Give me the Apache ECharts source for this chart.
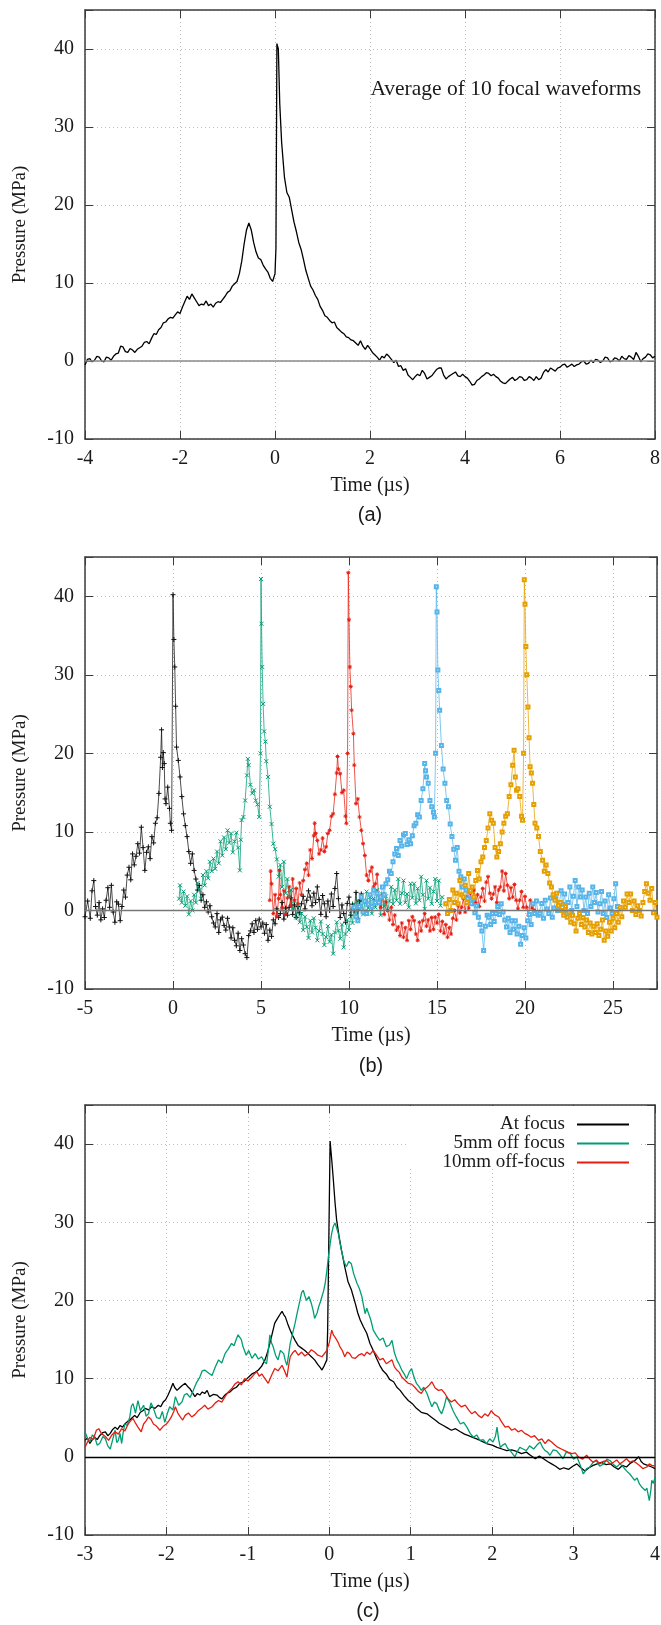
<!DOCTYPE html>
<html>
<head>
<meta charset="utf-8">
<title>Focal pressure waveforms</title>
<script src="https://cdn.jsdelivr.net/npm/echarts@6/dist/echarts.min.js"></script>
<style>
  html, body { margin: 0; padding: 0; background: #fff; }
  #chart { width: 661px; height: 1625px; }
</style>
</head>
<body>
<div id="chart"></div>
<script>
// tick labels
const pressureTicks = [-10, 0, 10, 20, 30, 40];
const aTimeTicks = [-4, -2, 0, 2, 4, 6, 8];
const bTimeTicks = [-5, 0, 5, 10, 15, 20, 25];
const cTimeTicks = [-3, -2, -1, 0, 1, 2, 3, 4];

// (a) average of 10 focal waveforms, [time us, pressure MPa]
const aAverage = [
  [-4.0, -0.5], [-3.95, 0.2], [-3.9, 0.3], [-3.85, -0.1], [-3.8, 0.1], [-3.75, 0.6], [-3.7, 0.5], [-3.65, 0.0],
  [-3.6, -0.1], [-3.55, 0.5], [-3.5, 0.4], [-3.45, 0.1], [-3.4, 0.6], [-3.35, 0.9], [-3.3, 1.0], [-3.25, 1.9],
  [-3.2, 1.8], [-3.15, 1.2], [-3.1, 1.1], [-3.05, 1.6], [-3.0, 1.4], [-2.95, 1.1], [-2.9, 1.5], [-2.85, 1.7],
  [-2.8, 1.9], [-2.75, 2.4], [-2.7, 2.5], [-2.65, 2.2], [-2.6, 2.9], [-2.55, 3.5], [-2.5, 3.4], [-2.45, 4.0],
  [-2.4, 4.3], [-2.35, 4.9], [-2.3, 5.0], [-2.25, 5.4], [-2.2, 5.6], [-2.15, 5.5], [-2.1, 5.9], [-2.05, 6.3],
  [-2.0, 6.1], [-1.95, 6.9], [-1.9, 7.6], [-1.85, 8.3], [-1.8, 7.9], [-1.75, 8.6], [-1.7, 8.1], [-1.65, 7.6],
  [-1.6, 7.1], [-1.55, 7.3], [-1.5, 7.2], [-1.45, 7.7], [-1.4, 7.1], [-1.35, 7.3], [-1.3, 6.9], [-1.25, 7.4],
  [-1.2, 7.6], [-1.15, 7.5], [-1.1, 7.9], [-1.05, 8.3], [-1.0, 8.8], [-0.95, 9.0], [-0.9, 9.6], [-0.85, 9.9],
  [-0.8, 10.2], [-0.75, 11.2], [-0.7, 12.8], [-0.65, 15.0], [-0.6, 16.8], [-0.55, 17.7], [-0.5, 16.8], [-0.45, 15.2],
  [-0.4, 14.0], [-0.35, 13.2], [-0.3, 13.0], [-0.25, 12.3], [-0.2, 11.8], [-0.15, 11.4], [-0.1, 10.6], [-0.05, 10.2],
  [0.0, 11.2], [0.02, 14.5], [0.04, 40.7], [0.07, 40.0], [0.1, 33.0], [0.14, 28.0], [0.2, 23.5], [0.25, 21.6],
  [0.3, 21.0], [0.35, 19.4], [0.4, 17.8], [0.45, 16.6], [0.5, 15.2], [0.55, 14.3], [0.6, 13.0], [0.65, 11.6],
  [0.7, 10.6], [0.75, 9.6], [0.8, 9.1], [0.85, 8.4], [0.9, 7.9], [0.95, 7.0], [1.0, 6.5], [1.05, 5.8],
  [1.1, 5.6], [1.15, 5.2], [1.2, 4.9], [1.25, 5.0], [1.3, 4.3], [1.35, 4.0], [1.4, 3.7], [1.45, 3.5],
  [1.5, 3.1], [1.55, 3.0], [1.6, 2.7], [1.65, 2.6], [1.7, 2.3], [1.75, 2.0], [1.8, 2.6], [1.85, 1.9],
  [1.9, 1.5], [1.95, 2.0], [2.0, 1.6], [2.05, 1.1], [2.1, 0.8], [2.15, 0.5], [2.2, 0.1], [2.25, 0.6],
  [2.3, 0.4], [2.35, 0.9], [2.4, 0.6], [2.45, 0.2], [2.5, -0.2], [2.55, 0.1], [2.6, -0.7], [2.65, -0.6],
  [2.7, -1.2], [2.75, -1.0], [2.8, -1.8], [2.85, -2.1], [2.9, -2.4], [2.95, -2.0], [3.0, -1.7], [3.05, -1.9],
  [3.1, -1.2], [3.15, -1.6], [3.2, -2.3], [3.25, -2.1], [3.3, -1.9], [3.35, -1.5], [3.4, -1.1], [3.45, -0.9],
  [3.5, -0.9], [3.55, -1.8], [3.6, -2.3], [3.65, -2.0], [3.7, -1.8], [3.75, -1.6], [3.8, -1.4], [3.85, -1.9],
  [3.9, -2.0], [3.95, -1.7], [4.0, -2.0], [4.05, -2.2], [4.1, -2.6], [4.15, -3.1], [4.2, -3.0], [4.25, -2.5],
  [4.3, -2.3], [4.35, -2.0], [4.4, -1.8], [4.45, -1.5], [4.5, -1.6], [4.55, -1.9], [4.6, -1.7], [4.65, -2.0],
  [4.7, -2.2], [4.75, -2.6], [4.8, -2.8], [4.85, -2.9], [4.9, -2.6], [4.95, -2.3], [5.0, -2.1], [5.05, -2.5],
  [5.1, -2.3], [5.15, -2.0], [5.2, -2.1], [5.25, -2.5], [5.3, -2.4], [5.35, -2.0], [5.4, -2.2], [5.45, -2.5],
  [5.5, -2.0], [5.55, -2.4], [5.6, -2.2], [5.65, -1.5], [5.7, -1.1], [5.75, -1.4], [5.8, -0.9], [5.85, -1.1],
  [5.9, -1.3], [5.95, -0.9], [6.0, -0.8], [6.05, -0.5], [6.1, -0.4], [6.15, -0.8], [6.2, -0.6], [6.25, -0.4],
  [6.3, -0.7], [6.35, -0.5], [6.4, -0.4], [6.45, -0.1], [6.5, 0.0], [6.55, -0.4], [6.6, -0.3], [6.65, 0.1],
  [6.7, -0.2], [6.75, 0.2], [6.8, 0.1], [6.85, -0.2], [6.9, 0.0], [6.95, 0.5], [7.0, 0.4], [7.05, -0.1],
  [7.1, 0.0], [7.15, 0.4], [7.2, 0.3], [7.25, 0.0], [7.3, 0.6], [7.35, 0.3], [7.4, 0.2], [7.45, 0.7],
  [7.5, 0.5], [7.55, 0.2], [7.6, 1.1], [7.65, 0.6], [7.7, -0.1], [7.75, 0.3], [7.8, 0.5], [7.85, 0.9],
  [7.9, 0.8], [7.95, 0.4], [8.0, 0.6]
];

// (b) five successive waveforms
const bWave1 = [
  [-5.0, -0.8], [-4.85, 1.2], [-4.7, -1.0], [-4.6, 2.5], [-4.5, 3.8], [-4.4, 0.5], [-4.3, -0.6], [-4.2, 1.0],
  [-4.1, -1.2], [-4.0, 0.2], [-3.9, -0.9], [-3.8, 1.3], [-3.7, 2.9], [-3.6, 0.4], [-3.5, 3.2], [-3.4, -0.2],
  [-3.3, -1.5], [-3.2, 1.1], [-3.1, 0.8], [-3.0, -1.3], [-2.9, 0.5], [-2.8, 2.6], [-2.7, 1.7], [-2.6, 4.5],
  [-2.5, 5.5], [-2.4, 3.9], [-2.3, 7.2], [-2.2, 5.8], [-2.1, 6.9], [-2.0, 8.5], [-1.9, 7.3], [-1.8, 10.6],
  [-1.7, 8.0], [-1.6, 5.1], [-1.5, 7.4], [-1.4, 8.1], [-1.3, 6.6], [-1.2, 9.4], [-1.1, 8.6], [-1.0, 11.1],
  [-0.9, 11.8], [-0.8, 14.9], [-0.7, 19.5], [-0.65, 23.0], [-0.6, 18.2], [-0.55, 20.1], [-0.5, 18.7], [-0.45, 14.2],
  [-0.4, 13.6], [-0.3, 15.7], [-0.2, 13.0], [-0.15, 11.1], [-0.08, 10.2], [0.0, 40.2], [0.05, 34.5], [0.1, 31.0],
  [0.15, 26.0], [0.2, 20.8], [0.3, 19.1], [0.4, 17.0], [0.5, 14.5], [0.6, 12.3], [0.7, 10.8], [0.8, 9.4],
  [0.9, 7.5], [1.0, 6.0], [1.1, 7.2], [1.2, 5.1], [1.3, 4.0], [1.4, 2.6], [1.5, 3.2], [1.6, 1.3],
  [1.7, 2.0], [1.8, 0.4], [1.9, 1.1], [2.0, -0.2], [2.1, 0.6], [2.2, -0.8], [2.3, -1.6], [2.4, -2.1],
  [2.5, -0.4], [2.6, -2.8], [2.7, -1.2], [2.8, -0.85], [2.9, -1.9], [3.0, -2.5], [3.1, -1.0], [3.2, -2.1],
  [3.3, -3.5], [3.4, -2.2], [3.5, -3.8], [3.6, -4.5], [3.7, -2.9], [3.8, -5.1], [3.9, -3.6], [4.0, -4.4],
  [4.1, -5.5], [4.2, -6.0], [4.3, -3.2], [4.4, -2.6], [4.5, -1.7], [4.6, -2.8], [4.7, -1.3], [4.8, -2.4],
  [4.9, -1.1], [5.0, -2.1], [5.1, -1.6], [5.2, -2.9], [5.3, -1.8], [5.4, -3.8], [5.5, -2.5], [5.6, -3.3],
  [5.7, -1.2], [5.8, -1.7], [5.9, 0.2], [6.0, -0.9], [6.1, -0.4], [6.2, 1.0], [6.3, -1.1], [6.4, 0.3],
  [6.5, -0.6], [6.6, 0.4], [6.7, 1.6], [6.8, -0.5], [6.9, 0.7], [7.0, -0.9], [7.1, 0.5], [7.2, -0.3],
  [7.3, 0.85], [7.4, 1.8], [7.5, 0.2], [7.6, 1.3], [7.7, 2.5], [7.8, 1.7], [7.9, 0.6], [8.0, 2.2],
  [8.1, 1.0], [8.2, 3.0], [8.3, 1.4], [8.4, -0.5], [8.5, 1.9], [8.6, 0.85], [8.7, -0.8], [8.8, 1.2],
  [8.9, 0.0], [9.0, 2.1], [9.1, 0.5], [9.2, 2.8], [9.3, 4.7], [9.4, 1.5], [9.5, -0.9], [9.6, 0.7],
  [9.7, -0.4], [9.8, -1.5], [9.9, 0.9], [10.0, 1.7], [10.1, -0.6], [10.2, 0.8], [10.3, 0.0], [10.4, 2.3],
  [10.5, -1.0], [10.6, 1.2], [10.7, 2.1]
];
const bWave2 = [
  [0.35, 1.5], [0.4, 3.2], [0.5, 1.0], [0.6, 2.4], [0.7, 0.6], [0.8, 1.8], [0.9, -0.5], [1.0, 1.2],
  [1.1, 0.0], [1.2, 2.0], [1.3, 1.0], [1.4, 3.5], [1.5, 2.6], [1.6, 1.5], [1.7, 4.5], [1.8, 3.2],
  [1.9, 5.0], [2.0, 4.1], [2.1, 6.2], [2.2, 5.0], [2.3, 6.6], [2.4, 5.3], [2.5, 7.5], [2.6, 6.0],
  [2.7, 8.8], [2.8, 7.0], [2.9, 9.3], [3.0, 7.8], [3.1, 10.2], [3.2, 8.6], [3.3, 9.8], [3.4, 7.4],
  [3.5, 8.8], [3.6, 9.9], [3.7, 8.0], [3.8, 5.1], [3.85, 9.0], [3.9, 11.5], [4.0, 11.9], [4.1, 14.0],
  [4.2, 17.2], [4.25, 19.3], [4.3, 18.5], [4.4, 16.0], [4.5, 14.9], [4.6, 15.3], [4.7, 14.0], [4.8, 13.5],
  [4.9, 11.9], [4.97, 20.0], [5.0, 42.2], [5.03, 36.5], [5.07, 31.0], [5.12, 26.3], [5.18, 22.8], [5.25, 21.5],
  [5.3, 19.0], [5.4, 17.0], [5.5, 13.2], [5.6, 11.0], [5.7, 8.5], [5.8, 7.8], [5.9, 6.5], [6.0, 4.3],
  [6.1, 5.8], [6.2, 3.0], [6.3, 6.2], [6.4, 2.2], [6.5, 4.0], [6.6, 1.8], [6.7, 2.6], [6.8, 0.2],
  [6.9, 1.2], [7.0, -0.9], [7.1, 0.5], [7.2, -1.5], [7.3, -0.4], [7.4, -2.5], [7.5, -0.8], [7.6, -2.1],
  [7.7, -3.5], [7.8, -1.3], [7.9, -2.8], [8.0, -1.0], [8.1, -2.2], [8.2, -3.8], [8.3, -2.6], [8.4, -1.4],
  [8.5, -3.0], [8.6, -4.4], [8.7, -3.4], [8.8, -2.0], [8.9, -4.0], [9.0, -3.1], [9.1, -5.5], [9.2, -2.8],
  [9.3, -1.5], [9.4, -2.6], [9.5, -3.6], [9.6, -1.8], [9.7, -4.7], [9.8, -3.0], [9.9, -1.2], [10.0, -2.5],
  [10.1, -0.4], [10.2, -1.6], [10.3, 0.8], [10.4, -0.6], [10.5, 1.3], [10.6, 0.2], [10.7, 2.0], [10.8, -0.5],
  [10.9, 1.0], [11.0, 2.4], [11.1, 0.3], [11.2, 1.7], [11.3, -0.4], [11.4, 1.5], [11.5, 0.4], [11.6, 2.6],
  [11.7, 0.9], [11.8, -0.6], [11.9, 2.1], [12.0, 0.5], [12.1, 1.8], [12.2, 0.0], [12.3, 1.2], [12.4, 3.0],
  [12.5, 0.8], [12.6, 2.6], [12.7, 1.3], [12.8, 4.0], [12.9, 0.85], [13.0, 2.2], [13.1, 3.8], [13.2, 1.0],
  [13.3, 2.1], [13.4, 0.4], [13.5, 3.4], [13.6, 1.6], [13.7, 3.4], [13.8, 0.9], [13.9, 2.8], [14.0, 1.3],
  [14.1, 4.3], [14.2, 2.0], [14.3, 0.2], [14.4, 3.8], [14.5, 1.5], [14.6, 2.9], [14.7, 0.85], [14.8, 2.4],
  [14.9, 4.0], [15.0, 1.2], [15.1, 3.8], [15.2, 0.6], [15.3, 1.7]
];
const bWave3 = [
  [5.5, 1.3], [5.55, 5.0], [5.6, 3.4], [5.7, -0.4], [5.8, 2.0], [5.9, -0.8], [6.0, 1.5], [6.05, 5.1],
  [6.1, 2.0], [6.2, 0.4], [6.3, 2.5], [6.4, -0.5], [6.5, 1.6], [6.6, 3.0], [6.7, 0.6], [6.8, 4.0],
  [6.9, 1.3], [7.0, 2.8], [7.1, 0.85], [7.2, 3.5], [7.3, 2.0], [7.4, 3.8], [7.5, 5.2], [7.6, 6.0],
  [7.7, 4.5], [7.8, 7.7], [7.9, 6.6], [8.0, 9.5], [8.05, 11.1], [8.1, 9.8], [8.2, 8.9], [8.3, 7.2],
  [8.4, 7.7], [8.5, 9.2], [8.6, 7.5], [8.7, 8.1], [8.8, 9.8], [8.9, 10.2], [9.0, 12.0], [9.1, 12.3],
  [9.2, 14.8], [9.3, 17.5], [9.35, 19.6], [9.4, 18.0], [9.5, 17.4], [9.6, 15.0], [9.7, 15.3], [9.8, 12.0],
  [9.85, 11.1], [9.92, 20.0], [9.96, 43.0], [10.0, 37.0], [10.05, 31.0], [10.1, 28.5], [10.15, 25.5], [10.25, 22.5],
  [10.3, 18.5], [10.4, 13.6], [10.5, 14.2], [10.6, 11.9], [10.7, 10.2], [10.8, 8.5], [10.9, 7.0], [11.0, 4.5],
  [11.1, 3.8], [11.2, 5.0], [11.3, 5.5], [11.4, 3.0], [11.5, 3.4], [11.6, 4.6], [11.7, 1.2], [11.8, 0.4],
  [11.9, 2.0], [12.0, -0.5], [12.1, 1.1], [12.2, 0.0], [12.3, -1.2], [12.4, 0.4], [12.5, -1.8], [12.6, -0.6],
  [12.7, -2.5], [12.8, -2.1], [12.9, -3.2], [13.0, -1.6], [13.1, -3.4], [13.2, -2.2], [13.3, -3.8], [13.4, -1.3],
  [13.5, -2.4], [13.6, -0.8], [13.7, -1.3], [13.8, -3.0], [13.9, -3.8], [14.0, -1.5], [14.1, -2.6], [14.2, -1.3],
  [14.3, -0.4], [14.4, -2.0], [14.5, -1.2], [14.6, -2.6], [14.7, -0.9], [14.8, -2.4], [14.9, -0.85], [15.0, -1.6],
  [15.1, -0.5], [15.2, -2.6], [15.3, -1.4], [15.4, -2.9], [15.5, -1.8], [15.6, -3.4], [15.7, -2.2], [15.8, -3.0],
  [15.9, -1.0], [16.0, 0.0], [16.1, -1.2], [16.2, 0.6], [16.3, -0.3], [16.4, 0.4], [16.5, 1.5], [16.6, -0.2],
  [16.7, 1.7], [16.8, 0.3], [16.9, 2.2], [17.0, 0.8], [17.1, 2.6], [17.2, 1.0], [17.3, 2.0], [17.4, 0.5],
  [17.5, 1.7], [17.6, 2.8], [17.7, 1.2], [17.8, 3.6], [17.9, 4.3], [18.0, 2.2], [18.1, 1.5], [18.2, 2.1],
  [18.3, 3.0], [18.4, 1.0], [18.5, 2.6], [18.6, 3.0], [18.7, 5.0], [18.8, 2.5], [18.9, 4.7], [19.0, 3.2],
  [19.1, 1.5], [19.2, 2.9], [19.3, 1.7], [19.4, 3.3], [19.5, 1.3], [19.6, 0.2], [19.7, 1.3], [19.8, 2.4],
  [19.9, 0.4], [20.0, 1.8], [20.1, 0.4], [20.2, -0.6], [20.3, 1.3], [20.4, 0.3], [20.55, 0.0]
];
const bWave4 = [
  [10.3, 0.4], [10.4, -0.8], [10.5, -1.3], [10.6, 0.5], [10.7, 1.7], [10.8, -0.2], [10.9, 1.2], [11.0, -0.4],
  [11.1, 0.8], [11.2, 2.0], [11.3, 0.5], [11.4, 2.6], [11.5, 1.0], [11.6, 2.2], [11.7, 1.0], [11.8, 1.7],
  [11.9, 3.0], [12.0, 2.0], [12.1, 3.4], [12.2, 3.9], [12.3, 5.0], [12.4, 4.7], [12.5, 6.2], [12.6, 7.2],
  [12.7, 7.9], [12.8, 7.0], [12.9, 8.9], [13.0, 8.2], [13.1, 9.6], [13.2, 9.8], [13.3, 8.4], [13.4, 9.0],
  [13.5, 8.5], [13.6, 9.5], [13.7, 10.8], [13.8, 11.1], [13.9, 12.2], [14.0, 11.9], [14.1, 14.0], [14.2, 15.5],
  [14.3, 18.7], [14.35, 17.8], [14.4, 17.0], [14.5, 16.2], [14.6, 14.0], [14.7, 13.2], [14.8, 12.5], [14.85, 11.9],
  [14.92, 20.0], [14.96, 41.2], [15.0, 38.0], [15.05, 30.6], [15.1, 28.0], [15.15, 25.5], [15.25, 21.0], [15.35, 18.0],
  [15.45, 16.2], [15.55, 14.0], [15.65, 13.2], [15.75, 11.0], [15.85, 9.4], [15.95, 7.8], [16.05, 6.4], [16.15, 8.0],
  [16.25, 5.0], [16.35, 4.3], [16.45, 3.0], [16.55, 4.0], [16.65, 2.6], [16.75, 1.5], [16.85, 2.4], [16.95, 0.85],
  [17.05, 1.5], [17.15, -0.3], [17.25, 0.6], [17.35, -0.85], [17.45, -1.8], [17.55, -2.6], [17.65, -5.1], [17.75, -2.0],
  [17.85, -0.6], [17.95, -0.85], [18.05, -1.8], [18.15, -0.4], [18.25, -1.4], [18.35, -0.4], [18.45, 0.5], [18.55, -0.5],
  [18.65, 0.85], [18.75, -0.2], [18.85, -1.2], [18.95, -2.1], [19.05, -1.0], [19.15, -2.8], [19.25, -1.3], [19.35, -2.4],
  [19.45, -1.3], [19.55, -3.0], [19.65, -2.0], [19.75, -4.3], [19.85, -3.2], [19.95, -2.2], [20.05, -3.5], [20.15, -1.3],
  [20.25, -0.5], [20.35, -1.8], [20.45, 0.85], [20.55, -0.4], [20.65, 1.2], [20.75, -0.6], [20.85, -0.4], [20.95, 0.9],
  [21.05, -1.0], [21.15, 1.3], [21.25, 0.2], [21.35, -0.4], [21.45, 1.6], [21.55, -0.85], [21.65, 0.3], [21.75, 1.5],
  [21.85, 0.0], [21.95, 0.85], [22.05, 2.5], [22.15, 0.8], [22.25, 2.1], [22.35, -0.4], [22.45, 1.0], [22.55, 3.0],
  [22.65, 0.0], [22.75, 1.8], [22.85, 3.8], [22.95, 0.5], [23.05, 3.0], [23.15, 1.7], [23.25, 2.6], [23.35, 0.0],
  [23.45, 1.7], [23.55, -0.4], [23.65, 2.2], [23.75, 0.5], [23.85, 3.0], [23.95, 1.0], [24.05, 2.3], [24.15, -0.2],
  [24.25, 0.85], [24.35, 2.4], [24.45, -0.4], [24.55, 1.2], [24.65, -0.9], [24.75, 2.0], [24.85, 0.3], [24.95, -0.4],
  [25.05, 1.5], [25.15, 3.4], [25.25, 0.5]
];
const bWave5 = [
  [15.5, 0.85], [15.6, -0.4], [15.7, 1.4], [15.8, 0.0], [15.9, 2.6], [16.0, 1.0], [16.1, 2.2], [16.2, 0.85],
  [16.3, 3.8], [16.4, 2.0], [16.5, 1.7], [16.6, 3.2], [16.7, 1.0], [16.8, 4.7], [16.9, 2.5], [17.0, 3.0],
  [17.1, 1.7], [17.2, 3.8], [17.3, 5.1], [17.4, 4.0], [17.5, 6.2], [17.6, 6.8], [17.7, 8.0], [17.8, 8.9],
  [17.9, 10.5], [18.0, 12.3], [18.1, 11.5], [18.2, 11.1], [18.3, 8.0], [18.4, 6.8], [18.5, 7.5], [18.6, 8.5],
  [18.7, 10.0], [18.8, 11.1], [18.9, 12.0], [19.0, 12.3], [19.1, 14.5], [19.2, 16.0], [19.3, 18.5], [19.38, 20.4],
  [19.45, 17.0], [19.52, 15.3], [19.6, 15.5], [19.7, 14.5], [19.8, 12.0], [19.86, 11.5], [19.92, 20.0], [19.96, 42.1],
  [20.0, 39.0], [20.05, 33.6], [20.1, 30.0], [20.17, 25.9], [20.23, 22.0], [20.29, 18.3], [20.36, 17.5], [20.43, 16.2],
  [20.5, 13.5], [20.57, 11.1], [20.67, 10.5], [20.77, 9.4], [20.87, 7.5], [21.0, 6.4], [21.1, 5.0], [21.2, 5.8],
  [21.3, 4.7], [21.4, 3.5], [21.5, 3.0], [21.6, 2.0], [21.7, 1.3], [21.8, 2.2], [21.9, 0.6], [22.0, 1.0],
  [22.1, 0.0], [22.2, -0.6], [22.3, 0.5], [22.4, -0.85], [22.5, -0.2], [22.6, -1.5], [22.7, -0.6], [22.8, -1.7],
  [22.9, -2.6], [23.0, -1.0], [23.1, -0.4], [23.2, -1.8], [23.3, -0.9], [23.4, -2.1], [23.5, -1.2], [23.6, -2.8],
  [23.7, -1.6], [23.8, -3.0], [23.9, -2.0], [24.0, -2.8], [24.1, -1.7], [24.2, -3.2], [24.3, -2.4], [24.4, -1.2],
  [24.5, -3.8], [24.6, -2.6], [24.7, -3.3], [24.8, -1.5], [24.9, -2.6], [25.0, -1.0], [25.1, -2.2], [25.2, -0.4],
  [25.3, -1.5], [25.4, 0.4], [25.5, -0.8], [25.6, 1.2], [25.7, 0.4], [25.8, 2.1], [25.9, 1.0], [26.0, 2.1],
  [26.1, 0.0], [26.2, 1.2], [26.3, -0.5], [26.4, 0.6], [26.5, 0.0], [26.6, -0.7], [26.7, 1.0], [26.8, 2.4],
  [26.9, 3.4], [27.0, 2.2], [27.1, 1.3], [27.2, 2.8], [27.3, -0.3], [27.4, 1.0], [27.5, -0.85]
];

// (c) focus comparison
const cNames = ['At focus', '5mm off focus', '10mm off-focus'];
const cAtFocus = [
  [-3.0, 2.1], [-2.97, 2.4], [-2.94, 1.7], [-2.91, 2.2], [-2.88, 2.5], [-2.85, 2.2], [-2.82, 2.7], [-2.78, 3.1],
  [-2.75, 3.2], [-2.72, 2.7], [-2.69, 3.0], [-2.66, 3.5], [-2.63, 3.8], [-2.6, 3.5], [-2.57, 4.0], [-2.54, 3.8],
  [-2.51, 4.2], [-2.48, 4.5], [-2.45, 4.7], [-2.42, 5.0], [-2.39, 5.3], [-2.36, 5.0], [-2.32, 5.7], [-2.29, 5.9],
  [-2.26, 6.2], [-2.22, 6.0], [-2.18, 6.4], [-2.14, 6.2], [-2.1, 6.6], [-2.07, 6.4], [-2.04, 7.0], [-2.01, 7.3],
  [-1.98, 7.9], [-1.95, 8.6], [-1.92, 9.4], [-1.9, 8.9], [-1.87, 8.5], [-1.84, 8.8], [-1.81, 9.1], [-1.79, 9.3],
  [-1.77, 9.4], [-1.74, 9.0], [-1.71, 8.7], [-1.68, 8.2], [-1.65, 7.7], [-1.62, 8.1], [-1.59, 7.9], [-1.56, 8.3],
  [-1.53, 8.1], [-1.5, 8.5], [-1.47, 7.7], [-1.42, 8.0], [-1.38, 7.9], [-1.35, 7.6], [-1.32, 7.4], [-1.29, 7.8],
  [-1.26, 8.1], [-1.22, 8.3], [-1.18, 8.7], [-1.14, 8.9], [-1.1, 9.4], [-1.05, 9.6], [-1.01, 10.0], [-0.98, 10.3],
  [-0.95, 10.6], [-0.91, 10.8], [-0.87, 11.1], [-0.83, 11.6], [-0.79, 12.4], [-0.76, 13.3], [-0.73, 14.5], [-0.7, 15.8],
  [-0.67, 17.1], [-0.63, 17.8], [-0.6, 18.3], [-0.58, 18.6], [-0.56, 18.2], [-0.54, 17.9], [-0.51, 17.0], [-0.48, 16.2],
  [-0.45, 15.5], [-0.42, 14.9], [-0.38, 14.2], [-0.34, 13.9], [-0.3, 13.6], [-0.26, 13.2], [-0.22, 12.8], [-0.18, 12.4],
  [-0.14, 11.8], [-0.11, 11.4], [-0.09, 11.1], [-0.06, 11.7], [-0.03, 12.4], [-0.02, 16.2], [0.01, 40.4], [0.03, 38.0],
  [0.05, 35.4], [0.07, 32.6], [0.09, 30.3], [0.12, 28.2], [0.15, 26.4], [0.19, 24.3], [0.23, 22.4], [0.27, 21.4],
  [0.32, 19.6], [0.35, 18.4], [0.38, 17.5], [0.42, 16.6], [0.46, 15.8], [0.5, 14.5], [0.54, 13.6], [0.58, 12.6],
  [0.62, 11.7], [0.66, 11.0], [0.7, 10.6], [0.74, 9.9], [0.79, 9.6], [0.83, 8.9], [0.87, 8.5], [0.92, 7.8],
  [0.97, 7.2], [1.02, 6.8], [1.07, 6.2], [1.13, 5.7], [1.2, 5.5], [1.25, 5.1], [1.3, 4.7], [1.35, 4.3],
  [1.4, 4.0], [1.45, 3.7], [1.5, 3.4], [1.55, 3.6], [1.61, 3.2], [1.66, 2.9], [1.71, 2.7], [1.76, 2.5],
  [1.81, 2.3], [1.87, 2.0], [1.93, 1.7], [2.0, 1.5], [2.06, 1.2], [2.12, 1.0], [2.18, 0.8], [2.24, 0.9],
  [2.3, 0.7], [2.36, 0.4], [2.42, 0.6], [2.47, 0.2], [2.53, -0.25], [2.58, 0.1], [2.63, -0.25], [2.68, -0.6],
  [2.73, -0.9], [2.78, -1.2], [2.83, -1.6], [2.88, -1.4], [2.94, -1.6], [2.99, -1.2], [3.04, -0.9], [3.09, -1.4],
  [3.14, -1.8], [3.19, -1.4], [3.24, -1.1], [3.29, -0.9], [3.34, -0.7], [3.4, -1.0], [3.45, -0.9], [3.5, -1.3],
  [3.55, -1.6], [3.6, -1.1], [3.65, -1.3], [3.7, -0.8], [3.75, -0.5], [3.8, 0.0], [3.83, -0.6], [3.86, -0.9],
  [3.91, -1.1], [3.96, -1.3], [4.0, -1.5]
];
const cOff5mm = [
  [-3.0, 3.2], [-2.97, 2.4], [-2.94, 1.9], [-2.91, 2.8], [-2.88, 2.5], [-2.85, 1.5], [-2.82, 1.7], [-2.78, 2.6],
  [-2.75, 2.3], [-2.72, 1.4], [-2.69, 1.0], [-2.66, 2.2], [-2.63, 3.4], [-2.61, 1.8], [-2.59, 2.1], [-2.57, 3.0],
  [-2.55, 1.7], [-2.53, 3.2], [-2.51, 4.2], [-2.48, 4.0], [-2.45, 5.1], [-2.43, 6.5], [-2.41, 6.8], [-2.38, 5.6],
  [-2.35, 7.2], [-2.32, 5.9], [-2.28, 6.6], [-2.25, 5.2], [-2.22, 5.5], [-2.19, 6.9], [-2.16, 6.2], [-2.12, 5.0],
  [-2.08, 4.9], [-2.05, 5.8], [-2.02, 4.4], [-1.99, 5.5], [-1.96, 6.4], [-1.92, 6.0], [-1.89, 7.7], [-1.85, 6.6],
  [-1.81, 7.0], [-1.78, 7.9], [-1.75, 8.1], [-1.71, 7.6], [-1.67, 8.5], [-1.63, 9.5], [-1.59, 10.2], [-1.56, 11.0],
  [-1.53, 11.1], [-1.48, 10.7], [-1.44, 10.4], [-1.4, 11.5], [-1.36, 12.4], [-1.32, 12.0], [-1.28, 13.2], [-1.24, 13.8],
  [-1.2, 14.5], [-1.17, 14.2], [-1.14, 15.1], [-1.12, 15.6], [-1.1, 15.8], [-1.08, 15.0], [-1.06, 14.1], [-1.02, 13.0],
  [-0.99, 13.6], [-0.95, 12.6], [-0.91, 13.2], [-0.87, 12.5], [-0.83, 12.8], [-0.8, 12.2], [-0.77, 11.9], [-0.75, 13.5],
  [-0.73, 15.6], [-0.71, 14.6], [-0.69, 14.1], [-0.66, 13.0], [-0.63, 12.4], [-0.6, 13.6], [-0.56, 13.2], [-0.54, 12.3],
  [-0.52, 11.7], [-0.5, 13.0], [-0.48, 14.5], [-0.45, 15.8], [-0.42, 17.1], [-0.39, 18.6], [-0.36, 20.0], [-0.34, 21.0],
  [-0.32, 21.3], [-0.3, 20.6], [-0.28, 20.0], [-0.25, 20.5], [-0.22, 19.6], [-0.2, 18.8], [-0.18, 17.7], [-0.15, 18.4],
  [-0.13, 19.2], [-0.11, 19.8], [-0.09, 20.5], [-0.07, 21.2], [-0.05, 22.2], [-0.03, 23.8], [-0.01, 25.6], [0.01, 27.2],
  [0.03, 28.6], [0.05, 29.5], [0.07, 29.9], [0.09, 29.3], [0.11, 28.6], [0.13, 27.4], [0.15, 26.4], [0.18, 25.0],
  [0.21, 24.3], [0.24, 25.0], [0.27, 24.7], [0.3, 23.4], [0.34, 22.2], [0.37, 21.5], [0.4, 20.5], [0.42, 19.4],
  [0.44, 18.3], [0.46, 19.0], [0.48, 19.2], [0.51, 17.5], [0.54, 16.2], [0.58, 15.5], [0.62, 14.9], [0.66, 15.2],
  [0.7, 14.1], [0.74, 14.3], [0.77, 14.9], [0.8, 13.3], [0.83, 12.4], [0.86, 11.8], [0.89, 11.1], [0.92, 10.6],
  [0.95, 10.0], [0.98, 10.8], [1.01, 11.3], [1.04, 10.2], [1.07, 9.4], [1.1, 9.0], [1.13, 8.5], [1.16, 8.9],
  [1.2, 8.1], [1.23, 7.2], [1.26, 6.4], [1.29, 7.0], [1.32, 6.8], [1.35, 6.0], [1.38, 5.5], [1.41, 6.4],
  [1.44, 7.7], [1.48, 6.9], [1.52, 5.9], [1.56, 5.1], [1.61, 4.2], [1.65, 4.4], [1.69, 3.8], [1.73, 3.0],
  [1.77, 2.5], [1.81, 2.8], [1.85, 2.1], [1.89, 2.2], [1.93, 1.7], [1.97, 2.3], [2.01, 1.9], [2.04, 2.6],
  [2.06, 3.8], [2.08, 2.2], [2.1, 1.2], [2.13, 1.5], [2.16, 1.7], [2.19, 1.1], [2.22, 0.8], [2.25, 0.4],
  [2.28, 0.0], [2.31, 0.7], [2.34, 1.2], [2.38, 1.0], [2.42, 0.8], [2.46, 1.4], [2.51, 1.0], [2.55, 1.5],
  [2.59, 1.9], [2.62, 1.2], [2.65, 0.8], [2.68, 0.6], [2.71, 0.2], [2.75, 0.9], [2.79, 0.8], [2.83, 0.3],
  [2.87, -0.25], [2.91, 0.6], [2.96, 0.4], [3.0, -0.3], [3.04, 0.0], [3.08, -1.0], [3.12, -2.2], [3.16, -1.5],
  [3.2, -1.3], [3.24, -0.7], [3.28, -0.5], [3.32, -1.2], [3.37, -0.9], [3.41, -0.3], [3.45, -0.5], [3.49, -1.0],
  [3.53, -1.3], [3.57, -0.9], [3.61, -1.3], [3.65, -1.8], [3.69, -2.2], [3.72, -2.6], [3.75, -3.0], [3.78, -2.7],
  [3.81, -3.5], [3.84, -3.9], [3.88, -4.3], [3.9, -4.0], [3.93, -5.6], [3.95, -4.2], [3.96, -3.0], [3.98, -3.4],
  [4.0, -2.6]
];
const cOff10mm = [
  [-3.0, 1.2], [-2.97, 1.9], [-2.94, 2.5], [-2.9, 2.2], [-2.86, 3.4], [-2.83, 3.6], [-2.8, 3.0], [-2.75, 2.6],
  [-2.71, 2.1], [-2.67, 2.8], [-2.63, 3.2], [-2.59, 2.9], [-2.55, 3.6], [-2.51, 3.3], [-2.47, 4.2], [-2.44, 4.6],
  [-2.41, 4.9], [-2.38, 4.3], [-2.35, 3.8], [-2.31, 3.2], [-2.28, 4.2], [-2.25, 4.6], [-2.22, 5.1], [-2.19, 4.8],
  [-2.16, 4.2], [-2.12, 3.9], [-2.08, 3.4], [-2.04, 3.9], [-2.0, 4.2], [-1.97, 4.6], [-1.94, 5.1], [-1.91, 5.8],
  [-1.89, 6.4], [-1.86, 5.6], [-1.83, 5.1], [-1.8, 4.7], [-1.77, 5.3], [-1.73, 5.6], [-1.69, 5.1], [-1.65, 5.4],
  [-1.61, 5.9], [-1.57, 6.2], [-1.53, 6.6], [-1.49, 6.1], [-1.44, 6.4], [-1.4, 6.9], [-1.36, 7.2], [-1.32, 7.0],
  [-1.28, 7.7], [-1.24, 8.3], [-1.2, 8.7], [-1.16, 9.3], [-1.12, 9.6], [-1.08, 9.2], [-1.04, 10.0], [-1.0, 9.7],
  [-0.95, 10.2], [-0.92, 10.6], [-0.89, 10.9], [-0.86, 10.3], [-0.83, 10.6], [-0.79, 10.0], [-0.75, 9.4], [-0.71, 10.4],
  [-0.67, 11.3], [-0.63, 11.0], [-0.58, 11.7], [-0.55, 11.0], [-0.52, 10.2], [-0.5, 11.6], [-0.48, 12.8], [-0.45, 13.3],
  [-0.42, 13.6], [-0.38, 13.0], [-0.34, 13.4], [-0.3, 12.9], [-0.26, 13.2], [-0.22, 13.7], [-0.18, 13.4], [-0.14, 13.0],
  [-0.09, 12.8], [-0.06, 13.2], [-0.03, 13.6], [0.0, 14.6], [0.03, 16.2], [0.05, 15.6], [0.07, 15.3], [0.1, 14.8],
  [0.13, 14.1], [0.16, 13.6], [0.19, 12.8], [0.22, 13.4], [0.25, 13.2], [0.28, 12.7], [0.32, 12.6], [0.36, 13.0],
  [0.4, 13.2], [0.43, 12.9], [0.46, 13.4], [0.5, 13.1], [0.54, 13.6], [0.58, 13.0], [0.62, 12.4], [0.66, 12.6],
  [0.7, 11.9], [0.74, 12.2], [0.77, 12.4], [0.8, 11.5], [0.83, 11.1], [0.86, 10.8], [0.89, 10.2], [0.93, 9.8],
  [0.97, 9.4], [1.01, 9.3], [1.05, 8.9], [1.09, 8.4], [1.13, 8.1], [1.16, 8.6], [1.2, 8.9], [1.23, 9.2],
  [1.26, 9.6], [1.3, 8.8], [1.34, 8.5], [1.38, 8.6], [1.42, 8.1], [1.46, 7.4], [1.5, 7.0], [1.54, 7.3],
  [1.58, 6.8], [1.62, 6.4], [1.67, 6.6], [1.71, 6.0], [1.75, 5.5], [1.79, 5.8], [1.83, 5.3], [1.87, 5.0],
  [1.91, 5.5], [1.95, 5.2], [1.99, 5.9], [2.03, 5.4], [2.08, 5.1], [2.12, 4.4], [2.16, 3.8], [2.2, 3.9],
  [2.24, 3.4], [2.28, 3.6], [2.32, 3.2], [2.36, 3.4], [2.4, 3.0], [2.44, 2.8], [2.48, 2.5], [2.52, 2.7],
  [2.57, 2.1], [2.61, 2.3], [2.65, 1.7], [2.69, 2.2], [2.73, 1.9], [2.77, 1.5], [2.81, 1.2], [2.85, 1.0],
  [2.89, 0.8], [2.93, 0.6], [2.98, 0.4], [3.02, 0.5], [3.06, 0.0], [3.11, -0.3], [3.16, 0.2], [3.2, -0.3],
  [3.24, -0.7], [3.28, -0.4], [3.32, -0.9], [3.36, -0.6], [3.41, -0.5], [3.45, -0.9], [3.49, -0.7], [3.53, -0.4],
  [3.57, -0.9], [3.61, -0.6], [3.65, -0.25], [3.69, -0.7], [3.73, -0.5], [3.77, -0.8], [3.81, -1.1], [3.85, -1.5],
  [3.9, -1.3], [3.93, -0.9], [3.96, -1.1], [4.0, -1.2]
];

const serif = '"Liberation Serif", "DejaVu Serif", serif';
const sans = '"Liberation Sans", Arial, sans-serif';
const ink = '#1a1a1a';
const frame = '#3c3c3c';

function xAxes(gi, ticks, max, name) {
  const base = {
    gridIndex: gi, type: 'value', min: ticks[0], max: max, interval: ticks[1] - ticks[0],
    axisLine: { onZero: false, lineStyle: { color: frame, width: 1.5 } },
    axisTick: { inside: true, length: 8, lineStyle: { color: frame, width: 1 } }
  };
  return [
    Object.assign({}, base, {
      position: 'bottom', name: name, nameLocation: 'middle', nameGap: 37,
      nameTextStyle: { fontFamily: serif, fontSize: 20, color: ink },
      axisLabel: { fontFamily: serif, fontSize: 20, color: ink, margin: 10,
        formatter: v => (ticks.includes(v) ? String(v) : '') },
      splitLine: { show: true, lineStyle: { color: '#bcbcbc', width: 1, type: [1, 3] } }
    }),
    Object.assign({}, base, { position: 'top', axisLabel: { show: false }, splitLine: { show: false } })
  ];
}

function yAxes(gi) {
  const base = {
    gridIndex: gi, type: 'value', min: pressureTicks[0], max: 45,
    interval: pressureTicks[1] - pressureTicks[0],
    axisLine: { onZero: false, lineStyle: { color: frame, width: 1.5 } },
    axisTick: { inside: true, length: 8, lineStyle: { color: frame, width: 1 } }
  };
  return [
    Object.assign({}, base, {
      position: 'left', name: 'Pressure (MPa)', nameLocation: 'middle', nameGap: 55,
      nameTextStyle: { fontFamily: serif, fontSize: 19, color: ink },
      axisLabel: { fontFamily: serif, fontSize: 20, color: ink, margin: 11,
        formatter: v => (pressureTicks.includes(v) ? String(v) : '') },
      splitLine: { show: true, lineStyle: { color: '#bcbcbc', width: 1, type: [1, 3] } }
    }),
    Object.assign({}, base, { position: 'right', axisLabel: { show: false }, splitLine: { show: false } })
  ];
}

function zeroLine(color, width) {
  return {
    silent: true, symbol: 'none', label: { show: false }, animation: false,
    lineStyle: { color: color, width: width, type: 'solid' },
    emphasis: { disabled: true },
    data: [{ yAxis: 0 }]
  };
}

function bSeries(name, data, color, symbol, size) {
  return {
    name: name, type: 'line', xAxisIndex: 2, yAxisIndex: 2, data: data,
    symbol: symbol, symbolSize: size, showSymbol: true,
    itemStyle: { color: color, borderColor: color, borderWidth: 1 },
    lineStyle: { color: color, width: 1, opacity: 0.75 },
    emphasis: { disabled: true }
  };
}

function cSeries(name, data, color) {
  return {
    name: name, type: 'line', xAxisIndex: 4, yAxisIndex: 4, data: data,
    symbol: 'none', itemStyle: { color: color },
    lineStyle: { color: color, width: 1.3 }, emphasis: { disabled: true }
  };
}

const chart = echarts.init(document.getElementById('chart'), null, { renderer: 'canvas' });

const option = {
  animation: false,
  backgroundColor: '#ffffff',
  grid: [
    { left: 85, top: 10, width: 570, height: 429, outerBoundsMode: 'none' },
    { left: 85, top: 557, width: 572, height: 432, outerBoundsMode: 'none' },
    { left: 85, top: 1105, width: 570, height: 430, outerBoundsMode: 'none' }
  ],
  xAxis: [].concat(
    xAxes(0, aTimeTicks, 8, 'Time (\u00b5s)'),
    xAxes(1, bTimeTicks, 27.5, 'Time (\u00b5s)'),
    xAxes(2, cTimeTicks, 4, 'Time (\u00b5s)')
  ),
  yAxis: [].concat(yAxes(0), yAxes(1), yAxes(2)),
  legend: {
    data: cNames, orient: 'vertical', align: 'right', right: 32, top: 1115,
    itemWidth: 52, itemHeight: 2, itemGap: 0, icon: 'rect', padding: 0,
    selectedMode: false,
    textStyle: { fontFamily: serif, fontSize: 19, color: ink, lineHeight: 19, padding: [0, 7, 0, 0] }
  },
  graphic: [
    { type: 'text', x: 641, y: 89, style: { text: 'Average of 10 focal waveforms', font: '21.5px ' + serif, fill: ink, align: 'right', verticalAlign: 'middle' } },
    { type: 'text', x: 370, y: 515, style: { text: '(a)', font: '20px ' + sans, fill: ink, align: 'center', verticalAlign: 'middle' } },
    { type: 'text', x: 371, y: 1066, style: { text: '(b)', font: '20px ' + sans, fill: ink, align: 'center', verticalAlign: 'middle' } },
    { type: 'text', x: 368, y: 1611, style: { text: '(c)', font: '20px ' + sans, fill: ink, align: 'center', verticalAlign: 'middle' } },
    // opaque key box, as in the original plot
    { type: 'rect', z: 1, shape: { x: 406, y: 1106, width: 235, height: 63 }, style: { fill: '#ffffff' } }
  ],
  series: [
    {
      name: 'Average', type: 'line', xAxisIndex: 0, yAxisIndex: 0, data: aAverage,
      symbol: 'none', lineStyle: { color: '#000', width: 1.3 }, itemStyle: { color: '#000' },
      emphasis: { disabled: true }, markLine: zeroLine('#8a8a8a', 1.5)
    },
    Object.assign(bSeries('Waveform 1', bWave1, '#111111', 'path://M0,5L10,5M5,0L5,10', 5), { markLine: zeroLine('#777777', 1.3) }),
    bSeries('Waveform 2', bWave2, '#009e73', 'path://M0,0L10,10M10,0L0,10', 4),
    bSeries('Waveform 3', bWave3, '#e51e10', 'path://M0,5L10,5M5,0L5,10M1.5,1.5L8.5,8.5M8.5,1.5L1.5,8.5', 4),
    bSeries('Waveform 4', bWave4, '#56b4e9', 'emptyRect', 3),
    bSeries('Waveform 5', bWave5, '#e69f00', 'emptyRect', 3),
    Object.assign(cSeries(cNames[0], cAtFocus, '#000000'), { markLine: zeroLine('#000000', 1.3) }),
    cSeries(cNames[1], cOff5mm, '#009e73'),
    cSeries(cNames[2], cOff10mm, '#e51e10')
  ]
};

chart.setOption(option);
</script>
</body>
</html>
